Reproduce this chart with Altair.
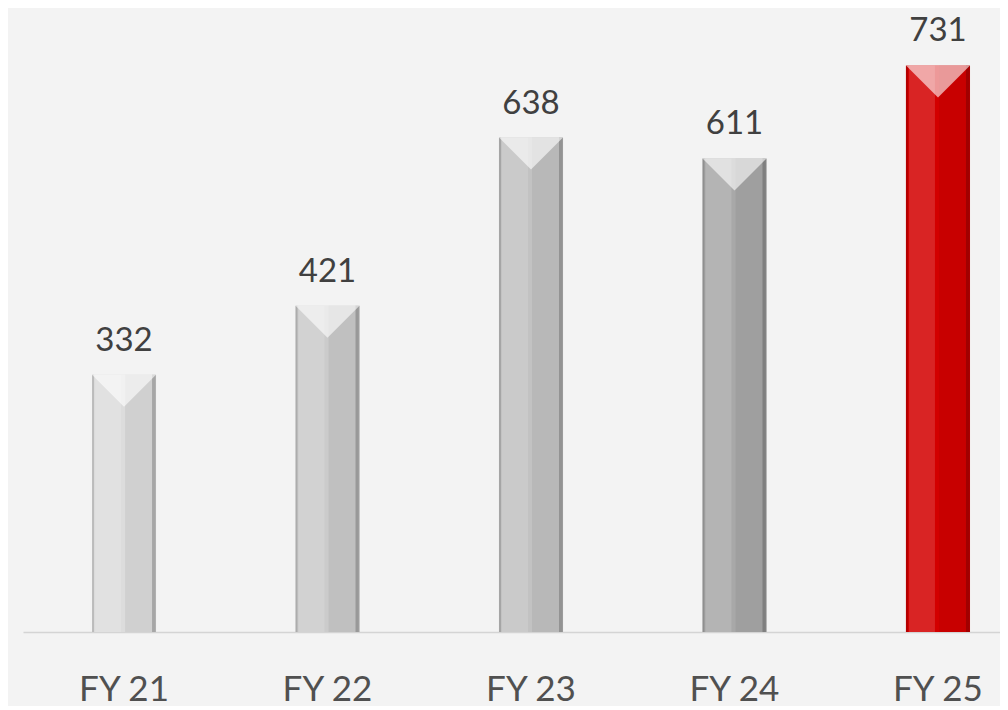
import altair as alt
import pandas as pd

years = ["FY 21", "FY 22", "FY 23", "FY 24", "FY 25"]
values = [332, 421, 638, 611, 731]
bar_colors = ["#dcdcdc", "#cbcbcb", "#c2c2c2", "#a8a8a8", "#d30000"]

df = pd.DataFrame({"year": years, "value": values})

x = alt.X("year:N", sort=years, title=None,
          scale=alt.Scale(range=[0, 1016], paddingInner=0.685, paddingOuter=0.339),
          axis=alt.Axis(labelAngle=0, ticks=False, tickSize=0, labelPadding=68,
                        labelBaseline="alphabetic", labelFontSize=35, labelFont="Lato",
                        labelColor="#505050", domainColor="#d4d4d4", domainWidth=1.5,
                        grid=False))
y = alt.Y("value:Q", scale=alt.Scale(domain=[0, 800], nice=False), axis=None, title=None)

base = alt.Chart(df)

bars = base.mark_bar().encode(
    x=x, y=y,
    color=alt.Color("year:N", scale=alt.Scale(domain=years, range=bar_colors), legend=None),
)

left_light = base.mark_bar(width=26, xOffset=-16, color="white", opacity=0.14).encode(x=x, y=y)
right_dark = base.mark_bar(width=30, xOffset=16, color="black", opacity=0.05).encode(x=x, y=y)
left_edge = base.mark_bar(width=2, xOffset=-31, color="black", opacity=0.15).encode(x=x, y=y)
right_edge = base.mark_bar(width=4, xOffset=30, color="black", opacity=0.2).encode(x=x, y=y)

top_bevel = base.mark_point(
    shape="M -1 0 L 1 0 L 0 1 Z", filled=True, size=4096, fill="white",
    fillOpacity=0.6, strokeWidth=0,
).encode(x=x, y=y)

labels = base.mark_text(
    baseline="alphabetic", dy=-24, fontSize=33, font="Lato", color="#404040",
).encode(x=x, y=y, text=alt.Text("value:Q"))

chart = alt.layer(bars, left_light, right_dark, left_edge, right_edge,
                  top_bevel, labels).properties(
    width=977, height=620,
    autosize=alt.AutoSizeParams(type="none"),
    padding={"left": 15, "top": 4, "right": 0, "bottom": 74},
    background="#f3f3f3",
).configure_view(stroke=None)

chart.save("out.html", embed_options={"renderer": "svg", "actions": False})
